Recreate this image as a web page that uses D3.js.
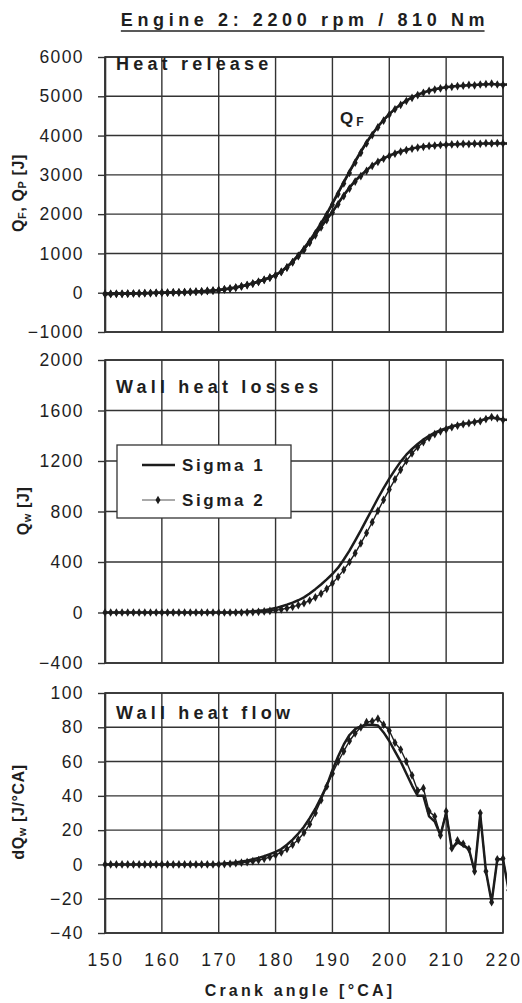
<!DOCTYPE html>
<html>
<head>
<meta charset="utf-8">
<script src="https://cdn.jsdelivr.net/npm/d3@7/dist/d3.min.js"></script>
<style>
  body { margin: 0; background: #fff; }
  svg { display: block; }
  text { font-family: "Liberation Sans", Arial, sans-serif; fill: #1e1e1e; }
</style>
</head>
<body>
<svg></svg>
<script>
// crank angle [deg CA], one point per degree
const ANGLE = [150,151,152,153,154,155,156,157,158,159,160,161,162,163,164,165,166,167,168,169,
  170,171,172,173,174,175,176,177,178,179,180,181,182,183,184,185,186,187,188,189,
  190,191,192,193,194,195,196,197,198,199,200,201,202,203,204,205,206,207,208,209,
  210,211,212,213,214,215,216,217,218,219,220,221];

// heat release Q_F (fuel) and Q_P (pressure) [J]
const QF_SIGMA1 = [-30,-30,-28,-26,-23,-20,-16,-12,-7,-3,0,3,6,10,15,20,27,35,45,57,
  70,88,110,135,165,200,240,285,335,390,450,540,660,800,960,1130,1330,1540,1770,2010,
  2280,2550,2820,3090,3350,3600,3830,4040,4230,4400,4550,4680,4790,4890,4970,5040,5100,5140,5180,5210,
  5230,5250,5260,5270,5280,5290,5300,5300,5310,5300,5300,5300];
const QF_SIGMA2 = [-30,-32,-29,-27,-24,-20,-17,-12,-8,-3,0,2,6,9,14,20,26,34,44,56,
  68,86,107,131,160,195,234,278,328,382,440,528,645,782,940,1105,1300,1510,1740,1980,
  2240,2510,2780,3050,3310,3560,3800,4010,4210,4380,4530,4670,4780,4880,4960,5030,5090,5140,5170,5200,
  5230,5240,5260,5270,5290,5280,5300,5310,5320,5300,5290,5300];
const QP_SIGMA1 = [-30,-30,-28,-26,-23,-20,-16,-12,-7,-3,0,3,6,10,15,20,27,35,45,57,
  70,88,110,135,165,200,240,285,335,390,450,540,655,790,950,1110,1290,1480,1680,1870,
  2060,2280,2490,2680,2850,2990,3120,3240,3340,3420,3490,3550,3600,3640,3670,3700,3720,3735,3750,3760,
  3770,3775,3780,3785,3790,3790,3795,3800,3800,3800,3800,3800];
const QP_SIGMA2 = [-30,-32,-29,-27,-24,-20,-17,-12,-8,-3,0,2,6,9,14,20,26,34,44,56,
  68,86,107,131,160,195,234,278,328,382,440,528,640,772,930,1090,1270,1460,1660,1850,
  2040,2250,2460,2650,2830,2970,3100,3230,3330,3410,3480,3540,3590,3630,3665,3695,3715,3735,3745,3760,
  3765,3775,3780,3790,3785,3795,3790,3805,3800,3810,3800,3800];

// wall heat losses Q_w [J]
const QW_SIGMA1 = [0,0,0,0,0,0,0,0,0,0,0,0,0,0,0,0,0,0,0,0,
  0,0,0,2,4,6,9,13,18,25,35,48,62,78,97,120,150,185,222,262,
  305,355,420,490,570,650,735,820,905,985,1060,1130,1195,1250,1295,1335,1370,1400,1425,1445,
  1460,1475,1485,1495,1500,1510,1520,1535,1545,1535,1528,1527];
const QW_SIGMA2 = [0,0,0,0,0,0,0,0,0,0,0,0,0,0,0,0,0,0,0,0,
  0,0,0,0,0,1,3,5,8,12,18,25,34,45,58,74,95,120,150,188,
  232,282,338,400,470,548,630,715,805,892,975,1055,1130,1200,1260,1310,1350,1385,1412,1435,
  1450,1468,1480,1492,1500,1508,1515,1532,1548,1540,1525,1525];

// wall heat flow dQ_w [J/deg CA]
const DQW_SIGMA1 = [0,0,0,0,0,0,0,0,0,0,0,0,0,0,0,0,0,0,0,0,
  0.3,0.5,0.8,1.2,1.7,2.2,3,3.8,4.8,6,7.3,9,11.5,14.5,18,22,27,32.5,39,46,
  55,63,70,75.5,79,80.5,81.5,81.5,81,77,72,66,60,53,46,40,40,28,25,17,
  30,9,13,11,9,-4,29,-4,-22,3,3,-15];
const DQW_SIGMA2 = [0,0,0,0,0,0,0,0,0,0,0,0,0,0,0,0,0,0,0,0,
  0,0.2,0.4,0.7,1,1.4,1.9,2.5,3.3,4.3,5.5,7,9,11.5,14.5,18.5,23.5,30,37.5,45.5,
  53,60,66,72,76.5,80,83,83.5,85,81.5,78,71,67,60,52,43,44.5,31,28,17,
  31,9.5,14,12,9,-4,30,-4,-22,3,3.5,-15];

const X_TICKS = [150,160,170,180,190,200,210,220];
const HEAT_TICKS = [-1000,0,1000,2000,3000,4000,5000,6000];
const LOSS_TICKS = [-400,0,400,800,1200,1600,2000];
const FLOW_TICKS = [-40,-20,0,20,40,60,80,100];
const SERIES_NAMES = ['Sigma 1', 'Sigma 2'];

// ---

const svg = d3.select('svg').attr('width', 522).attr('height', 1003);
const INK = '#1c1c1c';
const GRID = '#333';

const x = d3.scaleLinear().domain([150, 220]).range([105, 503]);

const zip = (vals) => ANGLE.map((a, i) => ({ a: a, v: vals[i] }));

const panels = [
  { id: 'heat', ticks: HEAT_TICKS, top: 57, bottom: 332, title: 'Heat release', titleY: 70,
    curves: [[QF_SIGMA1, QF_SIGMA2], [QP_SIGMA1, QP_SIGMA2]] },
  { id: 'loss', ticks: LOSS_TICKS, top: 360, bottom: 663, title: 'Wall heat losses', titleY: 393,
    curves: [[QW_SIGMA1, QW_SIGMA2]] },
  { id: 'flow', ticks: FLOW_TICKS, top: 693, bottom: 933, title: 'Wall heat flow', titleY: 719,
    curves: [[DQW_SIGMA1, DQW_SIGMA2]] }
];

const diamond = d3.symbol().type(d3.symbolDiamond).size(22);

panels.forEach((p) => {
  const y = d3.scaleLinear()
    .domain([p.ticks[0], p.ticks[p.ticks.length - 1]])
    .range([p.bottom, p.top]);

  const g = svg.append('g').attr('id', p.id);

  // grid
  g.append('g').selectAll('line').data(p.ticks).join('line')
    .attr('x1', 105).attr('x2', 503)
    .attr('y1', (d) => y(d)).attr('y2', (d) => y(d))
    .attr('stroke', GRID).attr('stroke-width', 1.4);
  g.append('g').selectAll('line').data(X_TICKS).join('line')
    .attr('x1', (d) => x(d)).attr('x2', (d) => x(d))
    .attr('y1', p.top).attr('y2', p.bottom)
    .attr('stroke', GRID).attr('stroke-width', 1.4);
  g.append('rect')
    .attr('x', 105).attr('y', p.top).attr('width', 398).attr('height', p.bottom - p.top)
    .attr('fill', 'none').attr('stroke', GRID).attr('stroke-width', 1.6);

  // left axis
  const yAxis = d3.axisLeft(y).tickValues(p.ticks).tickFormat(d3.format('d'))
    .tickSize(7).tickSizeOuter(0).tickPadding(14);
  const yAxisG = g.append('g').attr('transform', 'translate(105,0)');
  yAxis(yAxisG);
  yAxisG.select('.domain').attr('stroke', GRID).attr('stroke-width', 1.6);
  yAxisG.selectAll('.tick line').attr('stroke', GRID).attr('stroke-width', 1.4);
  yAxisG.selectAll('.tick text')
    .attr('font-size', 17.5).attr('letter-spacing', 1.4).attr('fill', '#1e1e1e')
    .style('font-family', '"Liberation Sans", Arial, sans-serif');

  // curves
  g.append('clipPath').attr('id', 'clip-' + p.id)
    .append('rect').attr('x', 100).attr('y', p.top - 8).attr('width', 407).attr('height', p.bottom - p.top + 16);
  const cg = g.append('g').attr('clip-path', 'url(#clip-' + p.id + ')');
  const line = d3.line().x((d) => x(d.a)).y((d) => y(d.v));

  p.curves.forEach(([s1, s2]) => {
    const d2 = zip(s2);
    cg.append('path').attr('d', line(d2))
      .attr('fill', 'none').attr('stroke', INK).attr('stroke-width', 1.4);
    cg.append('g').selectAll('path').data(d2).join('path')
      .attr('transform', (d) => `translate(${x(d.a)},${y(d.v)})`)
      .attr('d', diamond).attr('fill', INK);
    cg.append('path').attr('d', line(zip(s1)))
      .attr('fill', 'none').attr('stroke', INK).attr('stroke-width', 2.5)
      .attr('stroke-linejoin', 'round');
  });

  // panel title
  g.append('text').attr('x', 116).attr('y', p.titleY)
    .attr('font-size', 18).attr('font-weight', 'bold').attr('letter-spacing', 4.2)
    .text(p.title);
});

// Q_F label in the heat release panel
const qf = svg.append('text').attr('x', 340).attr('y', 124)
  .attr('font-size', 17).attr('font-weight', 'bold');
qf.append('tspan').text('Q');
qf.append('tspan').attr('dx', 3).attr('dy', 2).attr('font-size', 12).text('F');

// x axis labels under the bottom panel
svg.append('g').selectAll('text').data(X_TICKS).join('text')
  .attr('x', (d) => x(d) + 1).attr('y', 966)
  .attr('text-anchor', 'middle').attr('font-size', 17.5).attr('letter-spacing', 2.6)
  .text((d) => d);

svg.append('text').attr('x', 300).attr('y', 996).attr('text-anchor', 'middle')
  .attr('font-size', 16).attr('font-weight', 'bold').attr('letter-spacing', 3.2)
  .text('Crank angle [°CA]');

// y axis titles
function yTitle(cx, cy, parts) {
  const t = svg.append('text')
    .attr('transform', `translate(${cx},${cy}) rotate(-90)`)
    .attr('text-anchor', 'middle').attr('font-size', 16).attr('font-weight', 'bold')
    .attr('letter-spacing', 0.6);
  parts.forEach(([s, sub]) => {
    if (sub) t.append('tspan').attr('font-size', 11).attr('dy', 2).text(s);
    else t.append('tspan').attr('dy', t.selectAll('tspan').size() ? -2 : 0).text(s);
  });
  return t;
}
yTitle(26, 193, [['Q'], ['F', true], [', Q'], ['P', true], [' [J]']]);
yTitle(31, 511, [['Q'], ['w', true], [' [J]']]);
yTitle(26, 812, [['dQ'], ['w', true], [' [J/°CA]']]);

// title with underline
const title = svg.append('text').attr('x', 305).attr('y', 26).attr('text-anchor', 'middle')
  .attr('font-size', 18).attr('font-weight', 'bold').attr('letter-spacing', 4.6)
  .text('Engine 2: 2200 rpm / 810 Nm');
const tb = title.node().getBBox();
svg.append('line').attr('x1', tb.x).attr('x2', tb.x + tb.width - 4.6)
  .attr('y1', 31).attr('y2', 31).attr('stroke', '#222').attr('stroke-width', 1.7);

// legend
const leg = svg.append('g').attr('transform', 'translate(117,445)');
leg.append('rect').attr('width', 174).attr('height', 73)
  .attr('fill', '#fff').attr('stroke', '#333').attr('stroke-width', 1.3);
SERIES_NAMES.forEach((name, i) => {
  const ly = 20 + i * 35;
  leg.append('line').attr('x1', 25).attr('x2', 58).attr('y1', ly).attr('y2', ly)
    .attr('stroke', i ? '#555' : INK).attr('stroke-width', i ? 1 : 2.4);
  if (i) leg.append('path').attr('transform', `translate(41,${ly})`).attr('d', diamond).attr('fill', INK);
  leg.append('text').attr('x', 65).attr('y', ly + 6)
    .attr('font-size', 17).attr('font-weight', 'bold').attr('letter-spacing', 2.6)
    .text(name);
});
</script>
</body>
</html>
